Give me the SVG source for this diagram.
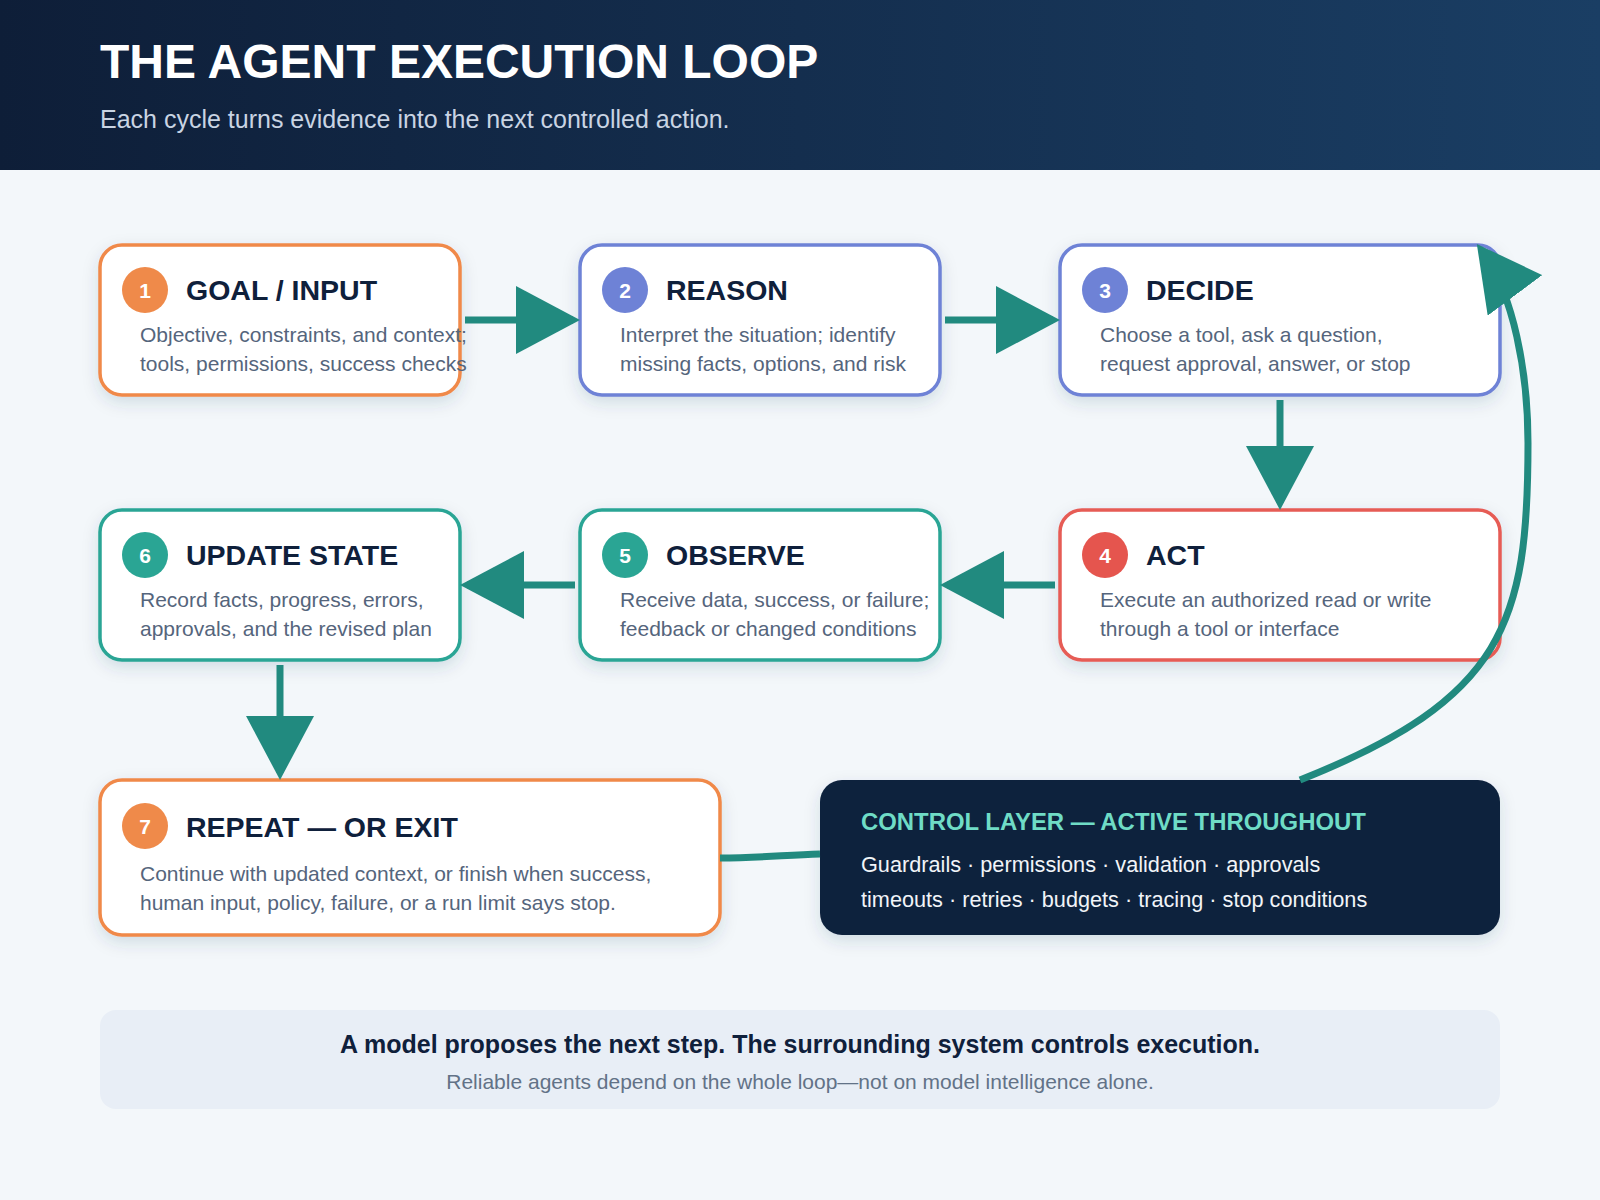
<svg xmlns="http://www.w3.org/2000/svg" width="1600" height="1200" viewBox="0 0 1600 1200">
<defs>
<linearGradient id="hdr" x1="0" y1="0" x2="1" y2="0">
<stop offset="0" stop-color="#0e1e38"/>
<stop offset="1" stop-color="#1a3e64"/>
</linearGradient>
<filter id="sh" x="-10%" y="-15%" width="120%" height="140%">
<feDropShadow dx="0" dy="6" stdDeviation="8" flood-color="#1e3a5f" flood-opacity="0.14"/>
</filter>
<marker id="ah" markerUnits="userSpaceOnUse" viewBox="0 0 64 68" markerWidth="64" markerHeight="68" refX="57" refY="34" orient="auto">
<path d="M0,0 L64,34 L0,68 z" fill="#218a7f"/>
</marker>
<style>
.box{fill:#fff;stroke-width:3.5;filter:url(#sh)}
.org{stroke:#f0894a}.blu{stroke:#6e82d6}.red{stroke:#e65b55}.tea{stroke:#2aa595}
.c-org{fill:#ef8a4a}.c-blu{fill:#6e82d6}.c-red{fill:#e5554e}.c-tea{fill:#2aa594}
.num{font-family:"Liberation Sans",Arial,sans-serif;font-weight:bold;font-size:21px;fill:#fff;text-anchor:middle}
.ttl{font-family:"Liberation Sans",Arial,sans-serif;font-weight:bold;font-size:28.5px;fill:#0f203b}
.dsc{font-family:"Liberation Sans",Arial,sans-serif;font-size:21px;fill:#55657c}
.con{fill:none;stroke:#218a7f;stroke-width:7}
</style>
</defs>
<rect width="1600" height="1200" fill="#f3f7fa"/>
<rect width="1600" height="170" fill="url(#hdr)"/>
<text x="100" y="78" font-family="Liberation Sans,Arial,sans-serif" font-weight="bold" font-size="48" fill="#ffffff">THE AGENT EXECUTION LOOP</text>
<text x="100" y="128" font-family="Liberation Sans,Arial,sans-serif" font-size="25" fill="#c9d4e3">Each cycle turns evidence into the next controlled action.</text>

<g id="node1">
<rect class="box org" x="100" y="245" width="360" height="150" rx="22"/>
<circle class="c-org" cx="145" cy="290" r="23"/>
<text class="num" x="145" y="297.5">1</text>
<text class="ttl" x="186" y="300">GOAL / INPUT</text>
<text class="dsc" x="140" y="342">Objective, constraints, and context;</text>
<text class="dsc" x="140" y="371">tools, permissions, success checks</text>
</g>
<g id="node2">
<rect class="box blu" x="580" y="245" width="360" height="150" rx="22"/>
<circle class="c-blu" cx="625" cy="290" r="23"/>
<text class="num" x="625" y="297.5">2</text>
<text class="ttl" x="666" y="300">REASON</text>
<text class="dsc" x="620" y="342">Interpret the situation; identify</text>
<text class="dsc" x="620" y="371">missing facts, options, and risk</text>
</g>
<g id="node3">
<rect class="box blu" x="1060" y="245" width="440" height="150" rx="22"/>
<circle class="c-blu" cx="1105" cy="290" r="23"/>
<text class="num" x="1105" y="297.5">3</text>
<text class="ttl" x="1146" y="300">DECIDE</text>
<text class="dsc" x="1100" y="342">Choose a tool, ask a question,</text>
<text class="dsc" x="1100" y="371">request approval, answer, or stop</text>
</g>
<g id="node4">
<rect class="box red" x="1060" y="510" width="440" height="150" rx="22"/>
<circle class="c-red" cx="1105" cy="555" r="23"/>
<text class="num" x="1105" y="562.5">4</text>
<text class="ttl" x="1146" y="565">ACT</text>
<text class="dsc" x="1100" y="607">Execute an authorized read or write</text>
<text class="dsc" x="1100" y="636">through a tool or interface</text>
</g>
<g id="node5">
<rect class="box tea" x="580" y="510" width="360" height="150" rx="22"/>
<circle class="c-tea" cx="625" cy="555" r="23"/>
<text class="num" x="625" y="562.5">5</text>
<text class="ttl" x="666" y="565">OBSERVE</text>
<text class="dsc" x="620" y="607">Receive data, success, or failure;</text>
<text class="dsc" x="620" y="636">feedback or changed conditions</text>
</g>
<g id="node6">
<rect class="box tea" x="100" y="510" width="360" height="150" rx="22"/>
<circle class="c-tea" cx="145" cy="555" r="23"/>
<text class="num" x="145" y="562.5">6</text>
<text class="ttl" x="186" y="565">UPDATE STATE</text>
<text class="dsc" x="140" y="607">Record facts, progress, errors,</text>
<text class="dsc" x="140" y="636">approvals, and the revised plan</text>
</g>
<g id="node7">
<rect class="box org" x="100" y="780" width="620" height="155" rx="22"/>
<circle class="c-org" cx="145" cy="826" r="23"/>
<text class="num" x="145" y="833.5">7</text>
<text class="ttl" x="186" y="837">REPEAT — OR EXIT</text>
<text class="dsc" x="140" y="881">Continue with updated context, or finish when success,</text>
<text class="dsc" x="140" y="910">human input, policy, failure, or a run limit says stop.</text>
</g>
<g id="control">
<rect x="820" y="780" width="680" height="155" rx="22" fill="#0f213d" filter="url(#sh)"/>
<text x="861" y="830" font-family="Liberation Sans,Arial,sans-serif" font-weight="bold" font-size="23.9" fill="#6fdcc6">CONTROL LAYER — ACTIVE THROUGHOUT</text>
<text x="861" y="872" font-family="Liberation Sans,Arial,sans-serif" font-size="21.7" fill="#f1f4f8">Guardrails · permissions · validation · approvals</text>
<text x="861" y="907" font-family="Liberation Sans,Arial,sans-serif" font-size="21.7" fill="#f1f4f8">timeouts · retries · budgets · tracing · stop conditions</text>
</g>
<g id="connectors">
<path class="con" d="M465,320 L573,320" marker-end="url(#ah)"/>
<path class="con" d="M945,320 L1053,320" marker-end="url(#ah)"/>
<path class="con" d="M1280,400 L1280,503" marker-end="url(#ah)"/>
<path class="con" d="M1055,585 L947,585" marker-end="url(#ah)"/>
<path class="con" d="M575,585 L467,585" marker-end="url(#ah)"/>
<path class="con" d="M280,665 L280,773" marker-end="url(#ah)"/>
<path class="con" d="M720,858 C760,858 785,855 820,854"/>
<path class="con" d="M1300,780 C1504.6,698.6 1528,623 1528,443 C1528,373 1514,294 1481,249.6" marker-end="url(#ah)"/>
</g>
<g id="footer">
<rect x="100" y="1010" width="1400" height="99" rx="16" fill="#e8eef6"/>
<text x="800" y="1053" text-anchor="middle" font-family="Liberation Sans,Arial,sans-serif" font-weight="bold" font-size="25" fill="#0f203b">A model proposes the next step. The surrounding system controls execution.</text>
<text x="800" y="1089" text-anchor="middle" font-family="Liberation Sans,Arial,sans-serif" font-size="21" fill="#627287">Reliable agents depend on the whole loop—not on model intelligence alone.</text>
</g>
</svg>
